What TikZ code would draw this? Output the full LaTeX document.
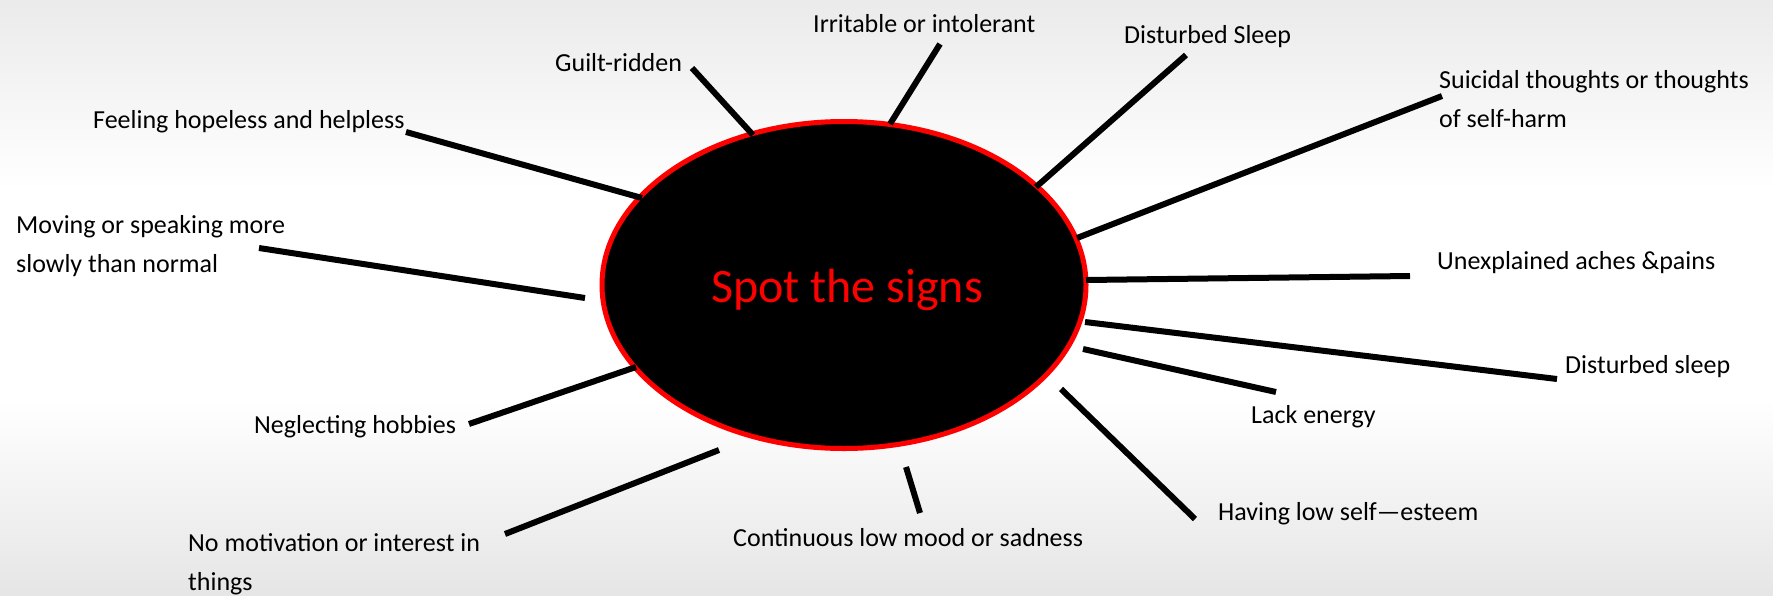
\documentclass[tikz,border=0pt]{standalone}
\usepackage{fontspec}
\setmainfont{Carlito}
\usetikzlibrary{shapes.geometric}
\begin{document}
\begin{tikzpicture}[x=1pt,y=-1pt,
  lbl/.style={font=\fontsize{26}{39}\selectfont, inner sep=0pt, anchor=base west, align=left, text=black},
  spoke/.style={line width=6pt, draw=black},
  hub/.style={ellipse, draw=red, fill=black, line width=5pt, minimum width=484pt, minimum height=327pt, inner sep=0pt}]
\useasboundingbox (0,0) rectangle (1773,595);
\shade[top color=black!8, bottom color=white] (0,0) rectangle (1773,190);
\fill[white] (0,189) rectangle (1773,401);
\shade[top color=white, bottom color=black!10] (0,400) rectangle (1773,595);

% hub
\node[hub] (hub) at (844,285) {};
\node[font=\fontsize{48}{50}\selectfont, text=red, inner sep=0pt, anchor=base] (title) at (847,302) {Spot the signs};

% labels (multi-line nodes: base is the last line)
\node[lbl] (irr) at (813,32) {Irritable or intolerant};
\node[lbl] (dsl) at (1124,43) {Disturbed Sleep};
\node[lbl] (gui) at (555,71) {Guilt-ridden};
\node[lbl] (hop) at (93,128) {Feeling hopeless and helpless};
\node[lbl] (sui) at (1439,127) {Suicidal thoughts or thoughts\\of self-harm};
\node[lbl] (mov) at (16,272) {Moving or speaking more\\slowly than normal};
\node[lbl] (ach) at (1437,269) {Unexplained aches \&pains};
\node[lbl] (dsl2) at (1565,373) {Disturbed sleep};
\node[lbl] (lac) at (1251,423) {Lack energy};
\node[lbl] (neg) at (254,433) {Neglecting hobbies};
\node[lbl] (est) at (1218,520) {Having low self—esteem};
\node[lbl] (con) at (733,546) {Continuous low mood or sadness};
\node[lbl] (mot) at (188,590) {No motivation or interest in\\things};

% spoke ends
\coordinate (irrA) at (940,44);   \coordinate (irrB) at (890,124);
\coordinate (dslA) at (1186,55);  \coordinate (dslB) at (1036,187);
\coordinate (guiA) at (692,68);   \coordinate (guiB) at (753,135);
\coordinate (hopA) at (406,132);  \coordinate (hopB) at (642,198);
\coordinate (suiA) at (1442,96);  \coordinate (suiB) at (1077,238);
\coordinate (movA) at (259,248);  \coordinate (movB) at (585,298);
\coordinate (achA) at (1410,276); \coordinate (achB) at (1086,280);
\coordinate (dsl2A) at (1557,379);\coordinate (dsl2B) at (1085,322);
\coordinate (lacA) at (1276,392); \coordinate (lacB) at (1083,349);
\coordinate (negA) at (469,424);  \coordinate (negB) at (636,367);
\coordinate (motA) at (505,534);  \coordinate (motB) at (719,450);
\coordinate (conA) at (920,513);  \coordinate (conB) at (906,467);
\coordinate (estA) at (1195,519); \coordinate (estB) at (1061,389);

\foreach \s in {irr,dsl,gui,hop,sui,mov,ach,dsl2,lac,neg,mot,con,est}
  \draw[spoke] (\s A) -- (\s B);
\end{tikzpicture}
\end{document}
